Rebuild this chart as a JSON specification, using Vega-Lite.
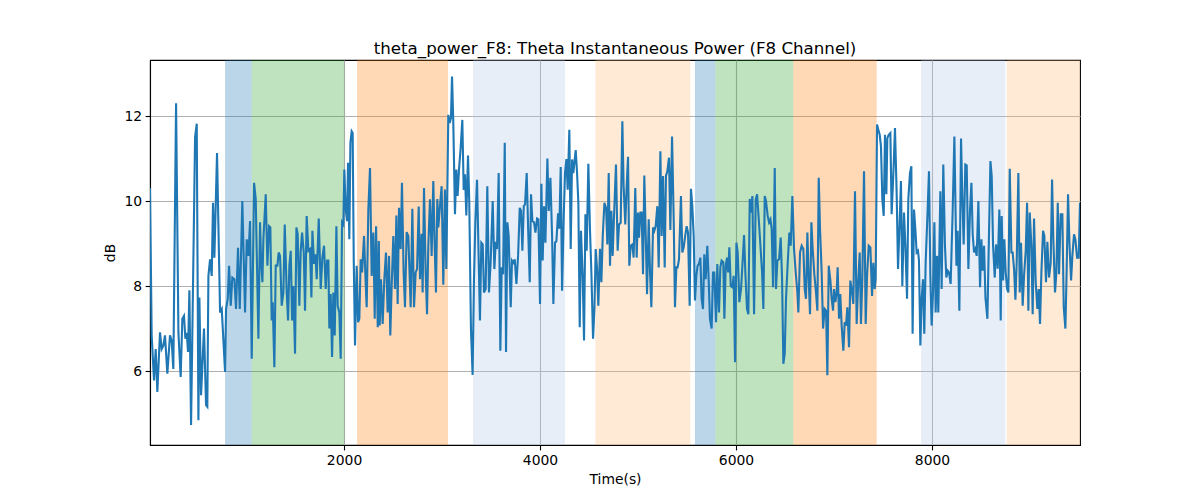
{
  "$schema": "https://vega.github.io/schema/vega-lite/v6.json",
  "width": 930,
  "height": 385,
  "autosize": {"type": "none"},
  "padding": {"left": 150, "top": 60, "right": 120, "bottom": 55},
  "background": "white",
  "title": {"text": "theta_power_F8: Theta Instantaneous Power (F8 Channel)", "font": "DejaVu Sans", "fontSize": 16.67, "fontWeight": "normal", "color": "black", "anchor": "middle", "baseline": "alphabetic", "offset": -11},
  "config": {
    "view": {"stroke": "black", "strokeWidth": 1.1},
    "axis": {"labelFont": "DejaVu Sans", "labelFontSize": 13.9, "labelColor": "black", "titleFont": "DejaVu Sans", "titleFontSize": 13.9, "titleFontWeight": "normal", "titleColor": "black", "tickColor": "black", "tickSize": 4.9, "tickWidth": 1.1, "domainColor": "black", "domainWidth": 1.1, "gridColor": "#b0b0b0", "gridWidth": 1.1, "labelPadding": 3.5}
  },
  "datasets": {
    "bands": [
      {"start": 786, "end": 1058, "kind": "A"},
      {"start": 1058, "end": 2003, "kind": "B"},
      {"start": 2133, "end": 3061, "kind": "C"},
      {"start": 3316, "end": 4255, "kind": "D"},
      {"start": 4565, "end": 5534, "kind": "E"},
      {"start": 5581, "end": 5789, "kind": "A"},
      {"start": 5789, "end": 6585, "kind": "B"},
      {"start": 6585, "end": 7435, "kind": "C"},
      {"start": 7888, "end": 8748, "kind": "D"},
      {"start": 8762, "end": 9510, "kind": "E"}
    ],
    "series": [
      {"t":20,"v":10.3},{"t":37,"v":6.84},{"t":61,"v":5.78},{"t":78,"v":6.52},{"t":95,"v":5.51},{"t":122,"v":6.91},{"t":139,"v":6.52},{"t":156,"v":6.6},{"t":173,"v":6.84},{"t":197,"v":5.94},{"t":224,"v":6.84},{"t":241,"v":6.72},{"t":258,"v":6.05},{"t":286,"v":12.3},{"t":310,"v":6.91},{"t":333,"v":5.86},{"t":350,"v":7.23},{"t":367,"v":7.3},{"t":381,"v":6.76},{"t":395,"v":6.9},{"t":408,"v":6.45},{"t":422,"v":7.9},{"t":439,"v":4.73},{"t":480,"v":11.5},{"t":497,"v":11.82},{"t":514,"v":4.84},{"t":524,"v":7.73},{"t":541,"v":5.43},{"t":571,"v":7.0},{"t":592,"v":5.2},{"t":605,"v":5.16},{"t":616,"v":8.24},{"t":633,"v":8.63},{"t":650,"v":8.24},{"t":663,"v":9.96},{"t":677,"v":8.67},{"t":704,"v":11.13},{"t":735,"v":7.38},{"t":752,"v":7.46},{"t":786,"v":5.98},{"t":796,"v":7.46},{"t":813,"v":7.7},{"t":827,"v":8.48},{"t":844,"v":7.54},{"t":860,"v":8.2},{"t":881,"v":8.16},{"t":898,"v":7.46},{"t":918,"v":8.9},{"t":936,"v":7.46},{"t":962,"v":10.0},{"t":990,"v":7.38},{"t":1007,"v":9.1},{"t":1024,"v":8.71},{"t":1041,"v":9.53},{"t":1058,"v":6.29},{"t":1082,"v":10.43},{"t":1099,"v":10.04},{"t":1126,"v":6.76},{"t":1143,"v":9.5},
      {"t":1153,"v":8.63},{"t":1167,"v":8.09},{"t":1177,"v":9.1},{"t":1201,"v":10.16},{"t":1218,"v":8.48},{"t":1235,"v":9.41},{"t":1248,"v":9.38},{"t":1262,"v":7.19},{"t":1272,"v":7.62},{"t":1289,"v":6.09},{"t":1303,"v":8.48},{"t":1320,"v":8.48},{"t":1333,"v":8.79},{"t":1347,"v":8.71},{"t":1364,"v":7.54},{"t":1381,"v":7.85},{"t":1395,"v":9.45},{"t":1415,"v":7.85},{"t":1429,"v":7.19},{"t":1442,"v":8.48},{"t":1456,"v":8.83},{"t":1470,"v":7.19},{"t":1483,"v":8.0},{"t":1500,"v":6.41},{"t":1514,"v":9.38},{"t":1527,"v":9.22},{"t":1544,"v":7.54},{"t":1558,"v":8.83},{"t":1572,"v":9.26},{"t":1589,"v":8.79},{"t":1602,"v":7.42},{"t":1619,"v":9.65},{"t":1636,"v":8.83},{"t":1653,"v":8.87},{"t":1667,"v":7.73},{"t":1677,"v":9.3},{"t":1694,"v":8.52},{"t":1708,"v":8.75},{"t":1721,"v":8.16},{"t":1742,"v":9.59},{"t":1762,"v":7.93},{"t":1779,"v":8.67},{"t":1796,"v":8.95},{"t":1813,"v":7.93},{"t":1827,"v":8.6},{"t":1840,"v":8.6},{"t":1850,"v":7.0},{"t":1864,"v":7.81},{"t":1878,"v":6.33},{"t":1891,"v":7.85},{"t":1905,"v":6.84},{"t":1922,"v":9.41},{"t":1935,"v":7.54},{"t":1952,"v":7.38},{"t":1966,"v":6.29},{"t":1980,"v":9.5},{"t":1993,"v":9.45},{"t":2003,"v":10.74},{"t":2017,"v":9.8},{"t":2031,"v":9.53},{"t":2041,"v":10.9},{"t":2054,"v":9.1},{"t":2065,"v":11.37},{"t":2078,"v":11.64},{"t":2088,"v":11.6},{"t":2099,"v":8.63},{"t":2112,"v":6.6},{"t":2129,"v":8.48},{"t":2143,"v":7.15},{"t":2156,"v":7.23},{"t":2170,"v":8.63},{"t":2184,"v":8.32},{"t":2204,"v":9.18},{"t":2218,"v":8.24},{"t":2231,"v":7.5},{"t":2248,"v":9.8},{"t":2265,"v":10.78},{"t":2282,"v":8.24},{"t":2299,"v":9.26},{"t":2313,"v":7.23},{"t":2327,"v":9.41},{"t":2344,"v":7.03},{"t":2355,"v":9.06},{"t":2364,"v":7.07},
      {"t":2377,"v":8.16},{"t":2394,"v":7.11},{"t":2411,"v":8.16},{"t":2428,"v":8.79},{"t":2445,"v":7.38},{"t":2459,"v":8.71},{"t":2472,"v":6.84},{"t":2486,"v":8.0},{"t":2503,"v":9.18},{"t":2520,"v":7.93},{"t":2534,"v":9.66},{"t":2547,"v":7.58},{"t":2561,"v":9.84},{"t":2578,"v":8.87},{"t":2591,"v":10.43},{"t":2608,"v":8.32},{"t":2622,"v":7.5},{"t":2639,"v":9.27},{"t":2656,"v":9.18},{"t":2680,"v":7.5},{"t":2697,"v":9.82},{"t":2714,"v":7.5},{"t":2731,"v":8.32},{"t":2745,"v":8.4},{"t":2762,"v":9.87},{"t":2775,"v":8.16},{"t":2792,"v":9.23},{"t":2802,"v":7.85},{"t":2816,"v":10.31},{"t":2833,"v":8.32},{"t":2847,"v":7.34},{"t":2860,"v":8.95},{"t":2877,"v":10.04},{"t":2894,"v":8.71},{"t":2911,"v":10.47},{"t":2925,"v":8.95},{"t":2938,"v":7.85},{"t":2952,"v":10.05},{"t":2962,"v":9.38},{"t":2979,"v":9.88},{"t":2996,"v":10.35},{"t":3013,"v":8.03},{"t":3030,"v":10.27},{"t":3044,"v":8.4},{"t":3064,"v":12.03},{"t":3078,"v":11.84},{"t":3091,"v":11.95},{"t":3102,"v":12.93},{"t":3115,"v":11.84},{"t":3132,"v":9.69},{"t":3146,"v":10.74},{"t":3159,"v":10.12},{"t":3173,"v":10.74},{"t":3190,"v":11.25},{"t":3207,"v":11.91},{"t":3221,"v":10.26},{"t":3234,"v":10.63},{"t":3248,"v":9.66},{"t":3265,"v":11.07},{"t":3278,"v":9.96},{"t":3295,"v":7.0},{"t":3312,"v":5.91},{"t":3326,"v":8.16},{"t":3340,"v":9.5},{"t":3357,"v":10.5},{"t":3374,"v":8.63},{"t":3387,"v":7.19},{"t":3401,"v":9.02},{"t":3415,"v":8.98},{"t":3428,"v":7.85},{"t":3445,"v":7.93},{"t":3462,"v":10.35},{"t":3479,"v":7.85},{"t":3496,"v":8.55},{"t":3517,"v":10.0},{"t":3534,"v":8.4},
      {"t":3548,"v":9.04},{"t":3561,"v":8.87},{"t":3578,"v":10.66},{"t":3595,"v":6.48},{"t":3609,"v":8.44},{"t":3623,"v":8.28},{"t":3640,"v":11.37},{"t":3653,"v":6.45},{"t":3667,"v":9.5},{"t":3680,"v":9.18},{"t":3701,"v":7.5},{"t":3714,"v":8.6},{"t":3728,"v":8.55},{"t":3742,"v":8.63},{"t":3759,"v":8.05},{"t":3776,"v":8.71},{"t":3793,"v":9.84},{"t":3806,"v":9.77},{"t":3820,"v":8.83},{"t":3834,"v":9.88},{"t":3847,"v":9.92},{"t":3864,"v":10.66},{"t":3878,"v":9.41},{"t":3895,"v":8.09},{"t":3908,"v":10.16},{"t":3922,"v":9.53},{"t":3939,"v":9.5},{"t":3953,"v":9.26},{"t":3970,"v":9.59},{"t":3983,"v":9.57},{"t":4000,"v":7.58},{"t":4014,"v":10.41},{"t":4027,"v":8.6},{"t":4041,"v":9.88},{"t":4055,"v":9.02},{"t":4075,"v":11.0},{"t":4089,"v":9.77},{"t":4106,"v":10.55},{"t":4123,"v":9.18},{"t":4136,"v":7.58},{"t":4153,"v":9.02},{"t":4167,"v":9.06},{"t":4184,"v":9.71},{"t":4197,"v":9.35},{"t":4211,"v":10.8},{"t":4225,"v":7.89},{"t":4242,"v":9.65},{"t":4255,"v":10.66},{"t":4269,"v":10.99},{"t":4282,"v":10.27},{"t":4299,"v":11.68},{"t":4313,"v":8.87},{"t":4327,"v":10.98},{"t":4340,"v":10.66},{"t":4354,"v":10.98},{"t":4364,"v":11.2},{"t":4378,"v":10.66},{"t":4391,"v":9.96},{"t":4405,"v":7.03},{"t":4418,"v":9.3},{"t":4435,"v":8.24},{"t":4449,"v":6.72},{"t":4463,"v":9.69},{"t":4476,"v":8.83},{"t":4493,"v":10.88},{"t":4510,"v":9.3},{"t":4524,"v":8.32},{"t":4541,"v":6.76},{"t":4555,"v":7.46},{"t":4568,"v":8.87},{"t":4582,"v":8.4},{"t":4595,"v":7.54},{"t":4612,"v":8.88},{"t":4626,"v":8.09},{"t":4640,"v":9.18},{"t":4657,"v":9.96},{"t":4674,"v":9.84},{"t":4687,"v":8.98},{"t":4701,"v":10.66},{"t":4714,"v":8.48},
      {"t":4728,"v":9.77},{"t":4741,"v":8.71},{"t":4755,"v":9.65},{"t":4775,"v":10.86},{"t":4792,"v":8.83},{"t":4806,"v":9.45},{"t":4823,"v":9.49},{"t":4840,"v":11.88},{"t":4853,"v":10.35},{"t":4870,"v":9.45},{"t":4884,"v":10.35},{"t":4898,"v":11.04},{"t":4911,"v":8.48},{"t":4925,"v":8.95},{"t":4942,"v":8.98},{"t":4955,"v":8.67},{"t":4972,"v":10.31},{"t":4986,"v":8.67},{"t":5000,"v":9.73},{"t":5010,"v":9.14},{"t":5024,"v":9.73},{"t":5037,"v":9.73},{"t":5051,"v":8.28},{"t":5064,"v":10.6},{"t":5078,"v":9.26},{"t":5092,"v":7.81},{"t":5109,"v":9.57},{"t":5122,"v":8.36},{"t":5136,"v":7.5},{"t":5153,"v":9.38},{"t":5166,"v":9.3},{"t":5180,"v":9.41},{"t":5197,"v":9.88},{"t":5211,"v":8.44},{"t":5228,"v":11.17},{"t":5241,"v":9.18},{"t":5255,"v":10.59},{"t":5272,"v":8.44},{"t":5285,"v":10.59},{"t":5299,"v":10.7},{"t":5316,"v":11.02},{"t":5330,"v":9.32},{"t":5347,"v":11.52},{"t":5364,"v":9.57},{"t":5377,"v":7.5},{"t":5391,"v":8.44},{"t":5404,"v":8.44},{"t":5418,"v":8.63},{"t":5438,"v":10.12},{"t":5452,"v":8.79},{"t":5466,"v":8.91},{"t":5479,"v":9.14},{"t":5496,"v":9.41},{"t":5510,"v":9.26},{"t":5527,"v":7.54},{"t":5540,"v":10.29},{"t":5554,"v":9.88},{"t":5568,"v":9.18},{"t":5581,"v":7.66},{"t":5595,"v":8.24},{"t":5608,"v":8.48},{"t":5622,"v":8.52},{"t":5636,"v":8.67},{"t":5649,"v":7.7},{"t":5663,"v":7.46},{"t":5676,"v":8.75},{"t":5690,"v":8.16},{"t":5707,"v":8.95},{"t":5721,"v":8.13},{"t":5734,"v":7.23},{"t":5751,"v":7.0},{"t":5765,"v":8.32},{"t":5778,"v":8.32},{"t":5796,"v":7.15},{"t":5809,"v":8.52},{"t":5826,"v":7.38},{"t":5840,"v":8.44},{"t":5853,"v":8.6},{"t":5870,"v":8.56},{"t":5881,"v":7.23},
      {"t":5895,"v":8.48},{"t":5908,"v":8.67},{"t":5919,"v":8.32},{"t":5932,"v":8.91},{"t":5946,"v":8.0},{"t":5963,"v":7.97},{"t":5976,"v":8.24},{"t":5990,"v":6.21},{"t":6004,"v":9.02},{"t":6017,"v":8.79},{"t":6034,"v":7.62},{"t":6051,"v":7.93},{"t":6065,"v":8.48},{"t":6082,"v":9.2},{"t":6095,"v":8.32},{"t":6112,"v":7.46},{"t":6126,"v":7.34},{"t":6140,"v":10.05},{"t":6153,"v":9.73},{"t":6167,"v":10.12},{"t":6184,"v":7.34},{"t":6201,"v":10.04},{"t":6215,"v":10.16},{"t":6232,"v":9.57},{"t":6249,"v":8.95},{"t":6266,"v":8.32},{"t":6279,"v":7.46},{"t":6293,"v":10.12},{"t":6306,"v":10.0},{"t":6323,"v":9.65},{"t":6337,"v":9.5},{"t":6351,"v":9.57},{"t":6364,"v":9.34},{"t":6378,"v":7.97},{"t":6395,"v":10.78},{"t":6408,"v":7.93},{"t":6422,"v":8.6},{"t":6439,"v":8.63},{"t":6456,"v":9.14},{"t":6470,"v":8.16},{"t":6483,"v":6.17},{"t":6497,"v":6.41},{"t":6510,"v":7.7},{"t":6527,"v":8.52},{"t":6544,"v":9.26},{"t":6558,"v":8.95},{"t":6575,"v":10.12},{"t":6592,"v":8.87},{"t":6609,"v":8.32},{"t":6626,"v":7.85},{"t":6636,"v":7.38},{"t":6653,"v":8.79},{"t":6670,"v":8.95},{"t":6687,"v":8.87},{"t":6701,"v":7.93},{"t":6714,"v":7.7},{"t":6728,"v":9.26},{"t":6742,"v":8.13},{"t":6755,"v":7.34},{"t":6769,"v":9.5},{"t":6782,"v":8.87},{"t":6799,"v":8.28},{"t":6816,"v":7.85},{"t":6830,"v":7.42},{"t":6844,"v":10.55},{"t":6857,"v":9.34},{"t":6874,"v":8.32},{"t":6888,"v":7.0},{"t":6905,"v":7.46},{"t":6919,"v":7.42},{"t":6932,"v":5.9},{"t":6946,"v":8.48},{"t":6963,"v":8.13},{"t":6976,"v":7.7},{"t":6990,"v":7.42},{"t":7000,"v":7.93},{"t":7014,"v":7.62},{"t":7027,"v":7.85},{"t":7037,"v":8.44},{"t":7051,"v":7.23},
      {"t":7064,"v":7.81},{"t":7078,"v":7.07},{"t":7095,"v":6.48},{"t":7109,"v":7.15},{"t":7122,"v":7.07},{"t":7136,"v":7.5},{"t":7153,"v":6.56},{"t":7166,"v":8.13},{"t":7180,"v":7.93},{"t":7197,"v":7.58},{"t":7214,"v":10.23},{"t":7231,"v":7.11},{"t":7248,"v":8.16},{"t":7262,"v":8.79},{"t":7275,"v":7.11},{"t":7289,"v":8.2},{"t":7306,"v":10.7},{"t":7323,"v":7.11},{"t":7337,"v":8.24},{"t":7354,"v":8.95},{"t":7371,"v":8.91},{"t":7388,"v":7.77},{"t":7401,"v":8.55},{"t":7415,"v":7.93},{"t":7425,"v":8.16},{"t":7439,"v":11.8},{"t":7452,"v":11.68},{"t":7466,"v":11.56},{"t":7479,"v":11.29},{"t":7493,"v":10.04},{"t":7507,"v":9.65},{"t":7520,"v":11.56},{"t":7534,"v":10.16},{"t":7544,"v":11.48},{"t":7558,"v":11.56},{"t":7575,"v":11.6},{"t":7588,"v":9.69},{"t":7609,"v":10.86},{"t":7622,"v":11.72},{"t":7639,"v":10.2},{"t":7653,"v":8.4},{"t":7670,"v":9.53},{"t":7683,"v":10.47},{"t":7697,"v":8.0},{"t":7714,"v":9.73},{"t":7728,"v":8.95},{"t":7745,"v":7.7},{"t":7758,"v":10.04},{"t":7775,"v":10.66},{"t":7789,"v":10.82},{"t":7802,"v":6.88},{"t":7816,"v":9.8},{"t":7830,"v":9.34},{"t":7843,"v":8.79},{"t":7857,"v":8.83},{"t":7867,"v":8.6},{"t":7881,"v":6.6},{"t":7894,"v":7.7},{"t":7908,"v":8.16},{"t":7921,"v":6.88},{"t":7935,"v":8.55},{"t":7955,"v":9.77},{"t":7969,"v":10.7},{"t":7983,"v":8.24},{"t":7996,"v":7.07},{"t":8010,"v":7.85},{"t":8024,"v":9.5},{"t":8037,"v":7.38},{"t":8051,"v":8.71},{"t":8064,"v":7.38},{"t":8085,"v":10.23},{"t":8098,"v":7.93},{"t":8115,"v":10.86},{"t":8132,"v":8.95},{"t":8146,"v":8.2},{"t":8160,"v":8.36},{"t":8173,"v":8.32},{"t":8190,"v":8.05},{"t":8211,"v":9.8},{"t":8228,"v":11.52},
      {"t":8249,"v":8.48},{"t":8262,"v":9.3},{"t":8279,"v":7.42},{"t":8296,"v":11.47},{"t":8310,"v":10.04},{"t":8323,"v":8.98},{"t":8340,"v":10.86},{"t":8354,"v":10.84},{"t":8371,"v":8.4},{"t":8388,"v":9.8},{"t":8402,"v":10.43},{"t":8415,"v":9.22},{"t":8429,"v":8.79},{"t":8442,"v":8.87},{"t":8456,"v":8.71},{"t":8473,"v":10.0},{"t":8490,"v":7.97},{"t":8504,"v":9.1},{"t":8517,"v":8.36},{"t":8531,"v":8.95},{"t":8545,"v":7.73},{"t":8565,"v":7.23},{"t":8579,"v":8.95},{"t":8596,"v":10.94},{"t":8609,"v":10.59},{"t":8623,"v":8.95},{"t":8640,"v":8.2},{"t":8653,"v":8.98},{"t":8670,"v":8.41},{"t":8687,"v":9.8},{"t":8701,"v":7.19},{"t":8711,"v":9.65},{"t":8725,"v":8.13},{"t":8738,"v":9.1},{"t":8752,"v":8.32},{"t":8766,"v":7.93},{"t":8779,"v":7.85},{"t":8793,"v":10.76},{"t":8810,"v":8.79},{"t":8823,"v":8.79},{"t":8837,"v":8.4},{"t":8851,"v":7.68},{"t":8864,"v":8.55},{"t":8881,"v":10.66},{"t":8895,"v":7.85},{"t":8908,"v":9.02},{"t":8925,"v":7.54},{"t":8939,"v":8.24},{"t":8956,"v":8.83},{"t":8970,"v":9.96},{"t":8983,"v":7.42},{"t":8997,"v":9.73},{"t":9014,"v":8.95},{"t":9027,"v":7.34},{"t":9041,"v":9.59},{"t":9058,"v":8.09},{"t":9075,"v":7.46},{"t":9089,"v":7.93},{"t":9102,"v":7.11},{"t":9116,"v":8.32},{"t":9133,"v":9.3},{"t":9146,"v":9.18},{"t":9163,"v":8.09},{"t":9177,"v":9.04},{"t":9194,"v":8.2},{"t":9211,"v":8.55},{"t":9225,"v":10.51},{"t":9238,"v":9.1},{"t":9255,"v":7.85},{"t":9269,"v":8.32},{"t":9283,"v":9.96},{"t":9296,"v":8.28},{"t":9313,"v":9.69},{"t":9330,"v":9.69},{"t":9344,"v":7.5},{"t":9361,"v":7.0},{"t":9374,"v":8.4},{"t":9388,"v":10.16},{"t":9402,"v":9.02},{"t":9419,"v":8.13},{"t":9432,"v":8.71},{"t":9449,"v":9.22},{"t":9463,"v":9.1},{"t":9480,"v":8.67},{"t":9497,"v":8.67},{"t":9510,"v":9.96}
    ]
  },
  "layer": [
    {
      "data": {"name": "bands"},
      "mark": {"type": "rect", "opacity": 0.3, "clip": true},
      "encoding": {
        "x": {"field": "start", "type": "quantitative", "scale": {"domain": [20, 9510], "nice": false, "zero": false}, "axis": {"title": "Time(s)", "values": [2000, 4000, 6000, 8000], "format": "d", "grid": true, "titlePadding": 5}},
        "x2": {"field": "end"},
        "color": {"field": "kind", "type": "nominal", "scale": {"domain": ["A", "B", "C", "D", "E"], "range": ["#1f77b4", "#2ca02c", "#ff7f0e", "#aec7e8", "#ffbb78"]}, "legend": null}
      }
    },
    {
      "data": {"name": "series"},
      "mark": {"type": "line", "color": "#1f77b4", "strokeWidth": 2.1, "clip": true},
      "encoding": {
        "x": {"field": "t", "type": "quantitative", "scale": {"domain": [20, 9510], "nice": false, "zero": false}},
        "y": {"field": "v", "type": "quantitative", "scale": {"domain": [4.26, 13.32], "nice": false, "zero": false}, "axis": {"title": "dB", "values": [6, 8, 10, 12], "grid": true, "titlePadding": 6}}
      }
    }
  ]
}
